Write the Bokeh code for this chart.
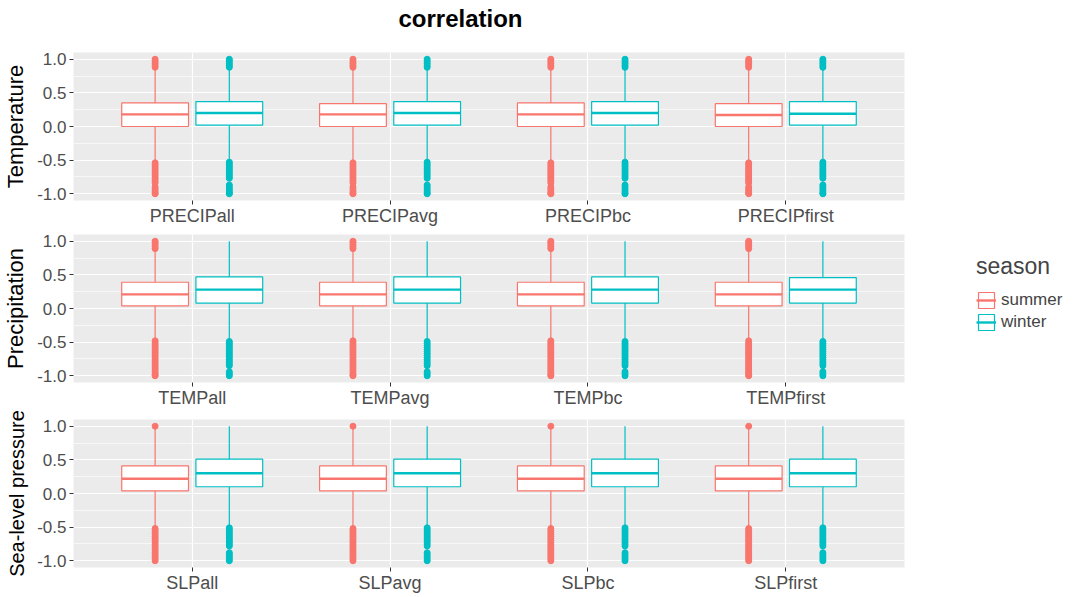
from bokeh.plotting import figure
from bokeh.layouts import column
from bokeh.models import FixedTicker, Legend, LegendItem, NumeralTickFormatter, Title
from bokeh.embed import file_html
from bokeh.resources import INLINE

title_text = "correlation"
seasons = ["summer", "winter"]
season_colors = ["#F8766D", "#00BFC4"]
y_ticks = [-1.0, -0.5, 0.0, 0.5, 1.0]
y_minor = [-0.75, -0.25, 0.25, 0.75]

panel_names = ["Temperature", "Precipitation", "Sea-level pressure"]
temp_categories = ["PRECIPall", "PRECIPavg", "PRECIPbc", "PRECIPfirst"]
precip_categories = ["TEMPall", "TEMPavg", "TEMPbc", "TEMPfirst"]
slp_categories = ["SLPall", "SLPavg", "SLPbc", "SLPfirst"]

# Temperature panel
temp_summer_q1 = [0.00, 0.00, 0.00, 0.00]
temp_summer_med = [0.18, 0.18, 0.18, 0.17]
temp_summer_q3 = [0.35, 0.34, 0.35, 0.34]
temp_summer_lo = [-0.52, -0.52, -0.52, -0.52]
temp_summer_hi = [0.86, 0.86, 0.86, 0.86]
temp_summer_out = [0.88, 0.91, 0.94, 0.97, 1.0,
                   -0.54, -0.57, -0.60, -0.63, -0.66, -0.69, -0.72, -0.75, -0.78,
                   -0.81, -0.84, -0.90, -0.93, -0.96, -0.99, -1.0]
temp_winter_q1 = [0.02, 0.02, 0.02, 0.02]
temp_winter_med = [0.20, 0.20, 0.20, 0.19]
temp_winter_q3 = [0.37, 0.37, 0.37, 0.37]
temp_winter_lo = [-0.51, -0.51, -0.51, -0.51]
temp_winter_hi = [0.86, 0.86, 0.86, 0.86]
temp_winter_out = [0.88, 0.91, 0.94, 0.97, 1.0,
                   -0.53, -0.56, -0.59, -0.62, -0.65, -0.68, -0.71, -0.74, -0.77,
                   -0.87, -0.90, -0.93, -0.96, -0.99, -1.0]

# Precipitation panel
precip_summer_q1 = [0.04, 0.04, 0.04, 0.04]
precip_summer_med = [0.21, 0.21, 0.21, 0.21]
precip_summer_q3 = [0.39, 0.39, 0.39, 0.39]
precip_summer_lo = [-0.46, -0.46, -0.46, -0.46]
precip_summer_hi = [0.87, 0.87, 0.87, 0.87]
precip_summer_out = [0.89, 0.92, 0.95, 0.98, 1.0,
                     -0.48, -0.51, -0.54, -0.57, -0.60, -0.63, -0.66, -0.69, -0.72,
                     -0.75, -0.78, -0.81, -0.84, -0.87, -0.90, -0.93, -0.96, -0.99, -1.0]
precip_winter_q1 = [0.08, 0.08, 0.08, 0.08]
precip_winter_med = [0.28, 0.28, 0.28, 0.28]
precip_winter_q3 = [0.47, 0.47, 0.47, 0.46]
precip_winter_lo = [-0.47, -0.47, -0.47, -0.47]
precip_winter_hi = [1.0, 1.0, 1.0, 1.0]
precip_winter_out = [-0.49, -0.52, -0.55, -0.58, -0.61, -0.64, -0.67, -0.70, -0.73,
                     -0.76, -0.79, -0.82, -0.85, -0.94, -0.97, -1.0]

# Sea-level pressure panel
slp_summer_q1 = [0.04, 0.04, 0.04, 0.04]
slp_summer_med = [0.22, 0.22, 0.22, 0.22]
slp_summer_q3 = [0.41, 0.41, 0.41, 0.41]
slp_summer_lo = [-0.50, -0.50, -0.50, -0.50]
slp_summer_hi = [0.97, 0.97, 0.97, 0.97]
slp_summer_out = [1.0,
                  -0.52, -0.55, -0.58, -0.61, -0.64, -0.67, -0.70, -0.73, -0.76,
                  -0.79, -0.82, -0.85, -0.88, -0.91, -0.94, -0.97, -1.0]
slp_winter_q1 = [0.10, 0.10, 0.10, 0.10]
slp_winter_med = [0.30, 0.30, 0.30, 0.30]
slp_winter_q3 = [0.51, 0.51, 0.51, 0.51]
slp_winter_lo = [-0.49, -0.49, -0.49, -0.49]
slp_winter_hi = [1.0, 1.0, 1.0, 1.0]
slp_winter_out = [-0.51, -0.54, -0.57, -0.60, -0.63, -0.66, -0.69, -0.72, -0.75, -0.78,
                  -0.88, -0.91, -0.94, -0.97, -1.0]

panels = [
    (panel_names[0], temp_categories,
     [(temp_summer_q1, temp_summer_med, temp_summer_q3, temp_summer_lo, temp_summer_hi, temp_summer_out),
      (temp_winter_q1, temp_winter_med, temp_winter_q3, temp_winter_lo, temp_winter_hi, temp_winter_out)]),
    (panel_names[1], precip_categories,
     [(precip_summer_q1, precip_summer_med, precip_summer_q3, precip_summer_lo, precip_summer_hi, precip_summer_out),
      (precip_winter_q1, precip_winter_med, precip_winter_q3, precip_winter_lo, precip_winter_hi, precip_winter_out)]),
    (panel_names[2], slp_categories,
     [(slp_summer_q1, slp_summer_med, slp_summer_q3, slp_summer_lo, slp_summer_hi, slp_summer_out),
      (slp_winter_q1, slp_winter_med, slp_winter_q3, slp_winter_lo, slp_winter_hi, slp_winter_out)]),
]

FONT = "Liberation Sans"
DODGE = 0.1875
BOX_W = 0.3375
borders = [(40, 30), (4, 23), (9, 26)]
label_sizes = ["22px", "22px", "20px"]

figs = []
for pi, (name, cats, stats) in enumerate(panels):
    top_b, bot_b = borders[pi]
    p = figure(frame_width=831, frame_height=148, x_range=(0.4, 4.6), y_range=(-1.1, 1.1),
               output_backend="svg", toolbar_location=None,
               min_border_left=68, min_border_right=172,
               min_border_top=top_b, min_border_bottom=bot_b)
    p.background_fill_color = "#EBEBEB"
    p.border_fill_color = "white"
    p.outline_line_color = None

    p.xaxis.ticker = FixedTicker(ticks=[1, 2, 3, 4])
    p.xaxis.major_label_overrides = {i + 1: c for i, c in enumerate(cats)}
    p.yaxis.ticker = FixedTicker(ticks=y_ticks, minor_ticks=y_minor)
    p.yaxis.formatter = NumeralTickFormatter(format="0.0")
    for ax in (p.xaxis[0], p.yaxis[0]):
        ax.axis_line_color = None
        ax.major_tick_line_color = "#333333"
        ax.major_tick_in = 0
        ax.major_tick_out = 4
        ax.minor_tick_line_color = None
        ax.major_label_text_font = FONT
        ax.major_label_text_font_size = "17px"
        ax.major_label_text_color = "#4D4D4D"
    p.xaxis.major_label_text_font_size = "18px"
    p.xaxis.major_label_standoff = 1
    p.yaxis.major_label_standoff = 3
    p.yaxis.axis_label = name
    p.yaxis.axis_label_text_font = FONT
    p.yaxis.axis_label_text_font_size = label_sizes[pi]
    p.yaxis.axis_label_text_font_style = "normal"
    p.yaxis.axis_label_text_color = "black"
    p.yaxis.axis_label_standoff = 6

    p.xgrid.ticker = FixedTicker(ticks=[1, 2, 3, 4])
    p.xgrid.grid_line_color = "white"
    p.xgrid.grid_line_width = 1.2
    p.ygrid.grid_line_color = "white"
    p.ygrid.grid_line_width = 1.2
    p.ygrid.minor_grid_line_color = "white"
    p.ygrid.minor_grid_line_width = 0.6

    legend_items = []
    for si, (q1, med, q3, lo, hi, outs) in enumerate(stats):
        col = season_colors[si]
        off = -DODGE if si == 0 else DODGE
        xs = [i + 1 + off for i in range(len(cats))]
        p.segment(x0=xs, y0=q3, x1=xs, y1=hi, line_color=col, line_width=1.2)
        p.segment(x0=xs, y0=lo, x1=xs, y1=q1, line_color=col, line_width=1.2)
        box = p.vbar(x=xs, width=BOX_W, bottom=q1, top=q3, fill_color="white",
                     line_color=col, line_width=1.2)
        medr = p.segment(x0=[x - BOX_W / 2 for x in xs], y0=med,
                         x1=[x + BOX_W / 2 for x in xs], y1=med,
                         line_color=col, line_width=2.4)
        ox, oy = [], []
        for x in xs:
            ox += [x] * len(outs)
            oy += outs
        p.scatter(ox, oy, size=6, color=col, line_color=col)
        legend_items.append(LegendItem(label=seasons[si], renderers=[box, medr]))

    if pi == 0:
        p.title.text = title_text
        p.title.text_font = FONT
        p.title.text_font_size = "24px"
        p.title.text_font_style = "bold"
        p.title.text_color = "black"
        p.title.align = "left"
        p.title.offset = 325
        p.title.standoff = 4
        spacer = Title(text=" ", text_font_size="16px", standoff=0)
        p.add_layout(spacer, "above")
    if pi == 1:
        legend = Legend(items=legend_items, location=(72, 50),
                        title="season", title_text_font=FONT, title_text_font_size="23px",
                        title_text_font_style="normal", title_standoff=10,
                        label_text_font=FONT,
                        label_text_font_size="17px", glyph_width=20, glyph_height=20,
                        label_height=20, spacing=2, padding=4, margin=0,
                        background_fill_alpha=0, border_line_color=None)
        p.add_layout(legend, "right")
    figs.append(p)

layout = column(*figs, spacing=0)
open("out.html", "w").write(file_html(layout, INLINE))
